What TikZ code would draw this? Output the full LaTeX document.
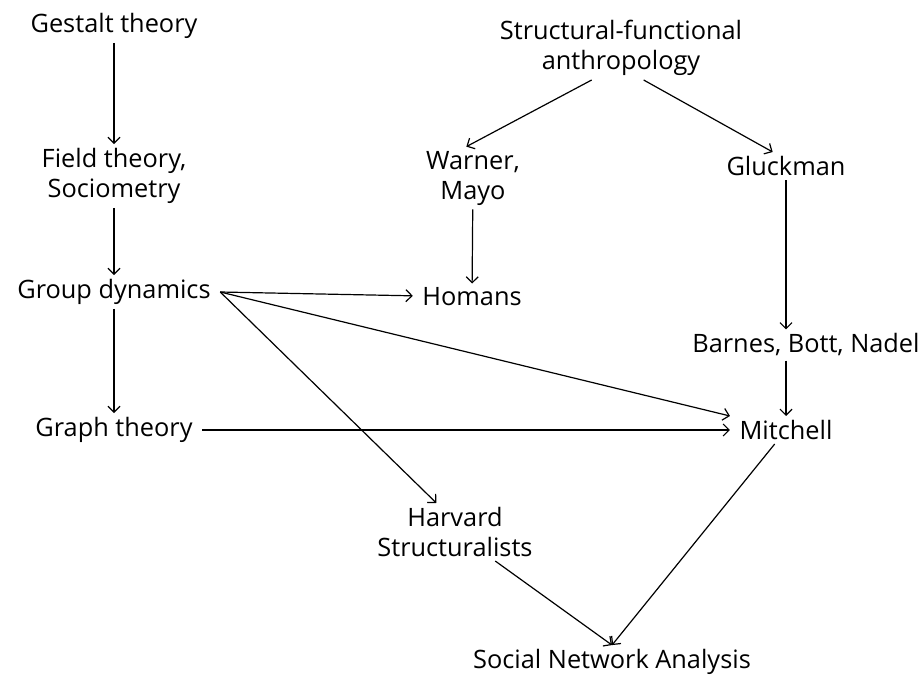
\documentclass[tikz,border=0pt]{standalone}
\usepackage{fontspec}
\setmainfont{Open Sans}
\usepackage{tikz}
\usetikzlibrary{arrows.meta, positioning}
\tikzset{>={Straight Barb[length=4.5pt, width=9pt]}}
\tikzset{
    theory/.style={align=center, font=\fontsize{19}{22.5}\selectfont, inner xsep=7pt, inner ysep=3pt},
    link/.style={->, line width=0.9pt}
}

\begin{document}
\begin{tikzpicture}[x=0.75pt, y=-0.75pt]
\useasboundingbox (0,0) rectangle (923,675);

% Left column
\node[theory] (gestalt) at (114,26) {Gestalt theory};
\node[theory] (field) at (114,176) {Field theory,\\Sociometry};
\node[theory] (group) at (114,292) {Group dynamics};
\node[theory] (graph) at (114,430) {Graph theory};

% Anthropology side
\node[theory] (anthro) at (621,48) {Structural-functional\\anthropology};
\node[theory] (warner) at (473,178) {Warner,\\Mayo};
\node[theory] (gluck) at (786,166) {Gluckman};
\node[theory] (homans) at (472,297) {Homans};
\node[theory] (barnes) at (806,345) {Barnes, Bott, Nadel};
\node[theory] (mitch) at (786,430) {Mitchell};

% Bottom
\node[theory] (harvard) at (455,532) {Harvard\\Structuralists};
\node[theory] (sna) at (612,662) {Social Network Analysis};

% Arrows
\draw[link] (gestalt) -- (field);
\draw[link] (field) -- (group);
\draw[link] (group) -- (graph);
\draw[link] ([xshift=-22pt]anthro.south) -- ([xshift=-5pt]warner.north);
\draw[link] ([xshift=17pt]anthro.south) -- ([xshift=-10pt]gluck.north);
\draw[link] (warner) -- (homans);
\draw[link] (gluck) -- (gluck |- barnes.north);
\draw[link] (mitch |- barnes.south) -- (mitch);
\draw[link] (group.east) -- (homans);
\draw[link] (group.east) -- (mitch.north west);
\draw[link] (group.east) -- ([xshift=-14pt]harvard.north);
\draw[link] (graph) -- (mitch);
\draw[link] (harvard) -- (sna.north);
\draw[link] (mitch) -- (sna.north);

\end{tikzpicture}
\end{document}
